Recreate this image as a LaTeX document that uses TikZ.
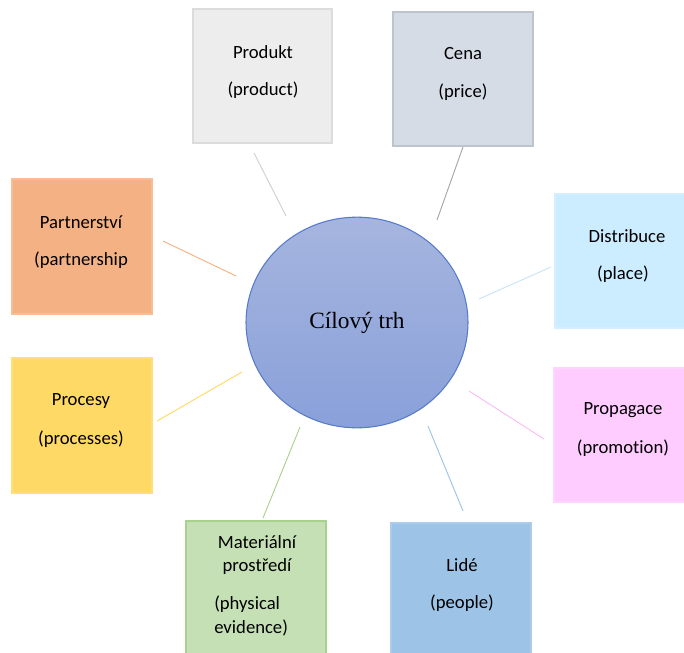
\documentclass[tikz,border=0pt]{standalone}
\usepackage{fontspec}
\setmainfont{Carlito}[Ligatures=NoCommon]
\newfontfamily\trhfont{Liberation Serif}
\usetikzlibrary{shapes.geometric}
\definecolor{mxgray}{RGB}{237,237,237}
\definecolor{mxgrayedge}{RGB}{220,220,220}
\definecolor{mxgrayline}{RGB}{208,208,208}
\definecolor{mxslate}{RGB}{214,220,229}
\definecolor{mxslateedge}{RGB}{190,196,206}
\definecolor{mxslateline}{RGB}{166,166,166}
\definecolor{mxorange}{RGB}{244,177,131}
\definecolor{mxyellow}{RGB}{255,217,102}
\definecolor{mxsky}{RGB}{204,236,255}
\definecolor{mxskyline}{RGB}{200,228,248}
\definecolor{mxpink}{RGB}{255,204,255}
\definecolor{mxpinkline}{RGB}{248,190,244}
\definecolor{mxgreen}{RGB}{197,224,180}
\definecolor{mxgreenline}{RGB}{169,209,142}
\definecolor{mxblue}{RGB}{157,195,230}
\definecolor{trhtop}{RGB}{166,181,223}
\definecolor{trhbot}{RGB}{137,160,217}
\definecolor{trhedge}{RGB}{86,124,201}
\tikzset{
  mixcell/.style={rectangle,inner sep=0pt,line width=.8pt},
  spoke/.style={line width=.7pt},
  mixlabel/.style={inner sep=0pt,font=\fontsize{14}{16}\selectfont}
}
\newcommand{\mixbox}[7]{%
  \node[mixcell,fill=#6,draw=#7,minimum width={(#4-#2)*0.75pt},
    minimum height={(#5-#3)*0.75pt}] (#1) at ({(#2+#4)/2},{(#3+#5)/2}) {};
}
\newcommand{\mixspoke}[6]{%
  \coordinate (#1a) at (#2,#3);
  \coordinate (#1b) at (#4,#5);
  \draw[spoke,#6] (#1a) -- (#1b);
}

\begin{document}
\begin{tikzpicture}[x=.75pt,y=-.75pt]
    \useasboundingbox (0,0) rectangle (684,652);
    \mixbox{produkt}{193}{9}{332}{143}{mxgray}{mxgrayedge}
    \mixbox{cena}{393}{12}{533}{146}{mxslate}{mxslateedge}
    \mixbox{partner}{12}{179}{152}{314}{mxorange}{mxorange!85!white}
    \mixbox{procesy}{12}{358}{152}{493}{mxyellow}{mxyellow!85!white}
    \mixbox{distrib}{555}{194}{690}{328}{mxsky}{mxsky!85!white}
    \mixbox{propag}{554}{368}{690}{502}{mxpink}{mxpink!85!white}
    \mixbox{material}{186}{521}{326}{660}{mxgreen}{mxgreenline}
    \mixbox{lide}{391}{523}{531}{660}{mxblue}{mxblue!85!white}
    \node[ellipse,minimum width=166.5pt,minimum height=158pt,line width=.8pt,
      top color=trhtop,bottom color=trhbot,draw=trhedge] (trh) at (357,322.5)
      {\trhfont\fontsize{17.5}{20}\selectfont Cílový trh};
    \node[mixlabel] (produktA) at (263,52) {Produkt};
    \node[mixlabel] (produktB) at (263,90) {(product)};
    \node[mixlabel] (cenaA) at (463,54) {Cena};
    \node[mixlabel] (cenaB) at (463,92) {(price)};
    \node[mixlabel] (partnerA) at (81,222) {Partnerství};
    \node[mixlabel] (partnerB) at (81,260) {(partnership};
    \node[mixlabel] (procesyA) at (81,401) {Procesy};
    \node[mixlabel] (procesyB) at (81,439) {(processes)};
    \node[mixlabel] (distribA) at (627,236) {Distribuce};
    \node[mixlabel] (distribB) at (623,274) {(place)};
    \node[mixlabel] (propagA) at (623,410) {Propagace};
    \node[mixlabel] (propagB) at (623,448) {(promotion)};
    \node[mixlabel] (materialA) at (257,542) {Materiální};
    \node[mixlabel] (materialB) at (257,567) {prostředí};
    \node[mixlabel,anchor=west] (materialC) at (214,604) {(physical};
    \node[mixlabel,anchor=west] (materialD) at (214,628) {evidence)};
    \node[mixlabel] (lideA) at (462,565) {Lidé};
    \node[mixlabel] (lideB) at (462,603) {(people)};
    \mixspoke{sprod}{254}{153}{286}{216}{mxgrayline}
    \mixspoke{scena}{463}{147}{437}{220}{mxslateline}
    \mixspoke{spart}{163}{241}{236}{276}{mxorange}
    \mixspoke{sproc}{157}{421}{242}{372}{mxyellow}
    \mixspoke{sdist}{479}{299}{551}{267}{mxskyline}
    \mixspoke{sprop}{469}{391}{544}{439}{mxpinkline}
    \mixspoke{smat}{300}{427}{263}{518}{mxgreenline}
    \mixspoke{slide}{428}{426}{463}{511}{mxblue}
\end{tikzpicture}
\end{document}
